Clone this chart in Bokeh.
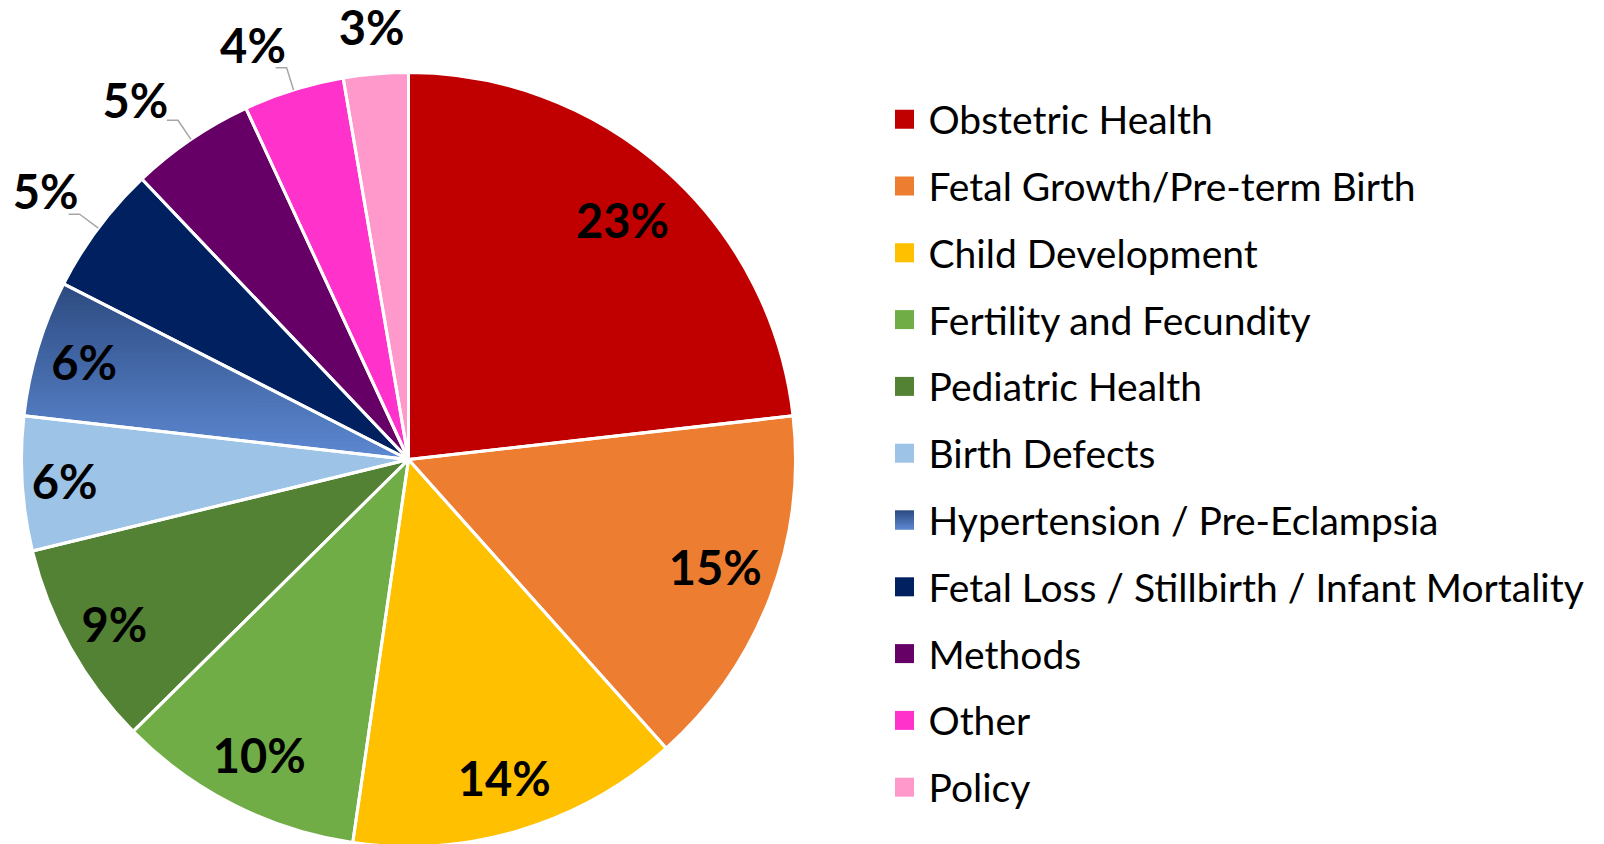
import numpy as np
from bokeh.plotting import figure
from bokeh.models import Range1d
from bokeh.core.properties import value
from bokeh.embed import file_html
from bokeh.resources import INLINE

# ---------------- data ----------------
categories = [
    "Obstetric Health",
    "Fetal Growth/Pre-term Birth",
    "Child Development",
    "Fertility and Fecundity",
    "Pediatric Health",
    "Birth Defects",
    "Hypertension / Pre-Eclampsia",
    "Fetal Loss / Stillbirth / Infant Mortality",
    "Methods",
    "Other",
    "Policy",
]
shares = [23.2, 15.2, 13.9, 10.3, 8.6, 5.6, 5.7, 5.4, 5.2, 4.2, 2.7]
pct_labels = ["23%", "15%", "14%", "10%", "9%", "6%", "6%", "5%", "5%", "4%", "3%"]
colors = ["#C00000", "#ED7D31", "#FFC000", "#70AD47", "#548235", "#9DC3E6",
          "#4A6FB0", "#002060", "#660066", "#FF33CC", "#FF99CC"]
gradient_index = 6
grad_top = "#2C4A80"
grad_bottom = "#5D89D2"

# label placement (fraction of radius, angular nudge in degrees)
label_rf = [0.83, 0.84, 0.86, 0.855, 0.87, 0.89, 0.875, 1.167, 1.167, 1.143, 1.122]
label_dang = [0, 1.5, 0, 0, 0, 0, 0, 0.2, 3.0, 3.3, 0]
leader_idx = [7, 8, 9]

# ---------------- layout ----------------
W, H = 1604, 844
cx, cy, R = 408, H - 459, 387
LABEL_FONT = "Lato"

p = figure(width=W, height=H, x_range=Range1d(0, W), y_range=Range1d(0, H),
           output_backend="svg", toolbar_location=None, min_border=0)
p.axis.visible = False
p.grid.visible = False
p.outline_line_color = None
p.background_fill_color = "white"
p.border_fill_color = "white"

frac = np.array(shares) / sum(shares)
cum = np.concatenate([[0.0], np.cumsum(frac)])
start = np.pi / 2 - 2 * np.pi * cum[:-1]
end = np.pi / 2 - 2 * np.pi * cum[1:]
mid = (start + end) / 2

p.wedge(x=cx, y=cy, radius=R, start_angle=list(start), end_angle=list(end),
        direction="clock", fill_color=colors, line_color=None)


def hex2rgb(h):
    h = h.lstrip("#")
    return np.array([int(h[i:i + 2], 16) for i in (0, 2, 4)], dtype=float)


def rgb2hex(c):
    return "#%02x%02x%02x" % tuple(int(round(v)) for v in c)


def clip(pts, keep, inter):
    out = []
    n = len(pts)
    for i in range(n):
        a, b = pts[i], pts[(i + 1) % n]
        ka, kb = keep(a), keep(b)
        if ka:
            out.append(a)
            if not kb:
                out.append(inter(a, b))
        elif kb:
            out.append(inter(a, b))
    return out


def yinter(yv):
    def f(a, b):
        t = (yv - a[1]) / (b[1] - a[1])
        return (a[0] + t * (b[0] - a[0]), yv)
    return f


def gradient_bands(poly, n=40):
    ys = [q[1] for q in poly]
    y0, y1 = min(ys), max(ys)
    c0, c1 = hex2rgb(grad_bottom), hex2rgb(grad_top)
    xs_all, ys_all, cols = [], [], []
    for k in range(n):
        lo = y0 + (y1 - y0) * k / n
        hi = y0 + (y1 - y0) * (k + 1) / n + 0.6
        part = clip(poly, lambda q: q[1] >= lo, yinter(lo))
        if part:
            part = clip(part, lambda q: q[1] <= hi, yinter(hi))
        if len(part) >= 3:
            xs_all.append([q[0] for q in part])
            ys_all.append([q[1] for q in part])
            t = (k + 0.5) / n
            cols.append(rgb2hex(c0 + (c1 - c0) * t))
    return xs_all, ys_all, cols


# gradient slice
g = gradient_index
arc = np.linspace(start[g], end[g], 60)
poly = [(cx, cy)] + [(cx + R * np.cos(a), cy + R * np.sin(a)) for a in arc]
bx, by, bc = gradient_bands(poly)
p.patches(xs=bx, ys=by, fill_color=bc, line_color=None)

# white separators
p.wedge(x=cx, y=cy, radius=R, start_angle=list(start), end_angle=list(end),
        direction="clock", fill_alpha=0, line_color="white", line_width=3)

# leader lines
lx_lines, ly_lines = [], []
for i in leader_idx:
    ca, sa = np.cos(mid[i]), np.sin(mid[i])
    ex, ey = cx + R * ca, cy + R * sa
    bxp, byp = cx + 1.06 * R * ca, cy + 1.06 * R * sa
    lx_lines.append([ex, bxp, bxp - 11])
    ly_lines.append([ey, byp, byp])
p.multi_line(xs=lx_lines, ys=ly_lines, line_color="#A6A6A6", line_width=1.5)

# percentage labels
lang = mid + np.radians(label_dang)
lx = [cx + rf * R * np.cos(m) for rf, m in zip(label_rf, lang)]
ly = [cy + rf * R * np.sin(m) for rf, m in zip(label_rf, lang)]
p.text(x=lx, y=ly, text=pct_labels, text_align="center", text_baseline="middle",
       text_font=value(LABEL_FONT), text_font_style="bold", text_font_size="47px",
       text_color="black")

# legend
leg_top = H - 118.7
leg_step = 66.8
mx, tx, ms = 904, 928, 19
leg_y = [leg_top - leg_step * i for i in range(len(categories))]
p.rect(x=[mx] * len(categories), y=leg_y, width=ms, height=ms,
       fill_color=colors, line_color=None)
sq = [(mx - ms / 2, leg_y[g] - ms / 2), (mx + ms / 2, leg_y[g] - ms / 2),
      (mx + ms / 2, leg_y[g] + ms / 2), (mx - ms / 2, leg_y[g] + ms / 2)]
sx, sy, sc = gradient_bands(sq, n=12)
p.patches(xs=sx, ys=sy, fill_color=sc, line_color=None)
p.text(x=[tx] * len(categories), y=leg_y, text=categories, text_align="left",
       text_baseline="middle", text_font=value(LABEL_FONT), text_font_size="39px",
       text_color="black")

open("out.html", "w").write(file_html(p, INLINE))
